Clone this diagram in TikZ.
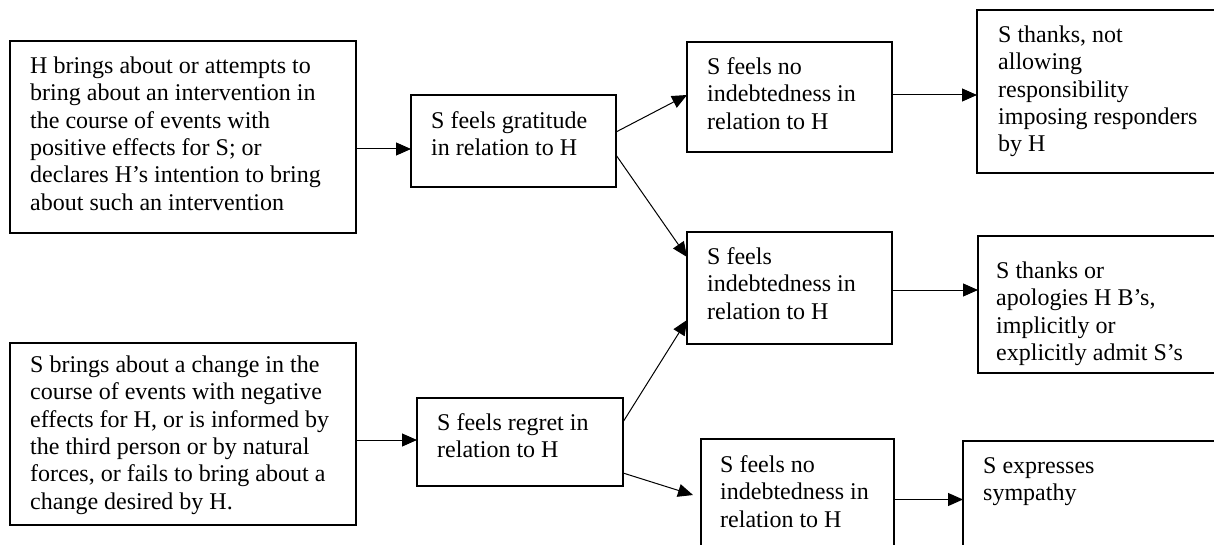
\documentclass[tikz,border=0pt]{standalone}
\usepackage{fontspec}
\setmainfont{Liberation Serif}
\usetikzlibrary{arrows.meta}
\begin{document}
\begin{tikzpicture}[x=1pt,y=-1pt,
  box/.style={draw, line width=1.2pt, anchor=north west, inner sep=0pt, outer sep=0pt},
  txt/.style={anchor=north west, inner sep=0pt, align=left, font=\fontsize{24}{27.4}\selectfont},
  arr/.style={line width=1pt, -{Triangle[length=15pt,width=13pt]}}]
\useasboundingbox (0,0) rectangle (1214,545);
\clip (0,0) rectangle (1214,545);

% left column: triggering situations
\node[box, minimum width=346pt, minimum height=192pt] (A) at (10,41) {};
\node[txt] (At) at (30,54) {\strut H brings about or attempts to\\bring about an intervention in\\the course of events with\\positive effects for S; or\\declares H’s intention to bring\\about such an intervention};
\node[box, minimum width=346pt, minimum height=182pt] (G) at (10,343) {};
\node[txt] (Gt) at (30,353) {\strut S brings about a change in the\\course of events with negative\\effects for H, or is informed by\\the third person or by natural\\forces, or fails to bring about a\\change desired by H.};

% second column: feelings
\node[box, minimum width=205pt, minimum height=92pt] (B) at (411,95) {};
\node[txt] (Bt) at (431,109) {\strut S feels gratitude\\in relation to H};
\node[box, minimum width=206pt, minimum height=88pt] (H) at (417,398) {};
\node[txt] (Ht) at (437,411) {\strut S feels regret in\\relation to H};

% third column: indebtedness
\node[box, minimum width=205pt, minimum height=110pt] (C) at (687,42) {};
\node[txt] (Ct) at (707,55) {\strut S feels no\\indebtedness in\\relation to H};
\node[box, minimum width=205pt, minimum height=112pt] (E) at (687,232) {};
\node[txt] (Et) at (707,245) {\strut S feels\\indebtedness in\\relation to H};
\node[box, minimum width=193pt, minimum height=121pt] (I) at (701,439) {};
\node[txt] (It) at (720,453) {\strut S feels no\\indebtedness in\\relation to H};

% right column: responses
\node[box, minimum width=260pt, minimum height=163pt] (D) at (977,10) {};
\node[txt] (Dt) at (998,23) {\strut S thanks, not\\allowing\\responsibility\\imposing responders\\by H};
\node[box, minimum width=260pt, minimum height=137pt] (F) at (978,236) {};
\node[txt] (Ft) at (996,259) {\strut S thanks or\\apologies H B’s,\\implicitly or\\explicitly admit S’s};
\node[box, minimum width=270pt, minimum height=119pt] (J) at (963,441) {};
\node[txt] (Jt) at (983,454) {\strut S expresses\\sympathy};

% connectors
\draw[arr] ([yshift=-12pt]A.east) -- ([yshift=-12pt]A.east -| B.west);
\draw[arr] ([yshift=-6pt]G.east) -- ([yshift=-6pt]G.east -| H.west);
\draw[arr] ([yshift=9pt]B.east) -- ([yshift=2pt]C.west);
\draw[arr] ([yshift=-14pt]B.east) -- ([yshift=31pt]E.west);
\draw[arr] ([yshift=20pt]H.east) -- ([yshift=-32pt]E.west);
\draw[arr] ([yshift=-31pt]H.east) -- ([xshift=-8pt,yshift=4.5pt]I.west);
\draw[arr] ([yshift=2pt]C.east) -- ([yshift=2pt]C.east -| D.west);
\draw[arr] ([yshift=-2pt]E.east) -- ([yshift=-2pt]E.east -| F.west);
\draw[arr] (I.east) -- (I.east -| J.west);
\end{tikzpicture}
\end{document}
